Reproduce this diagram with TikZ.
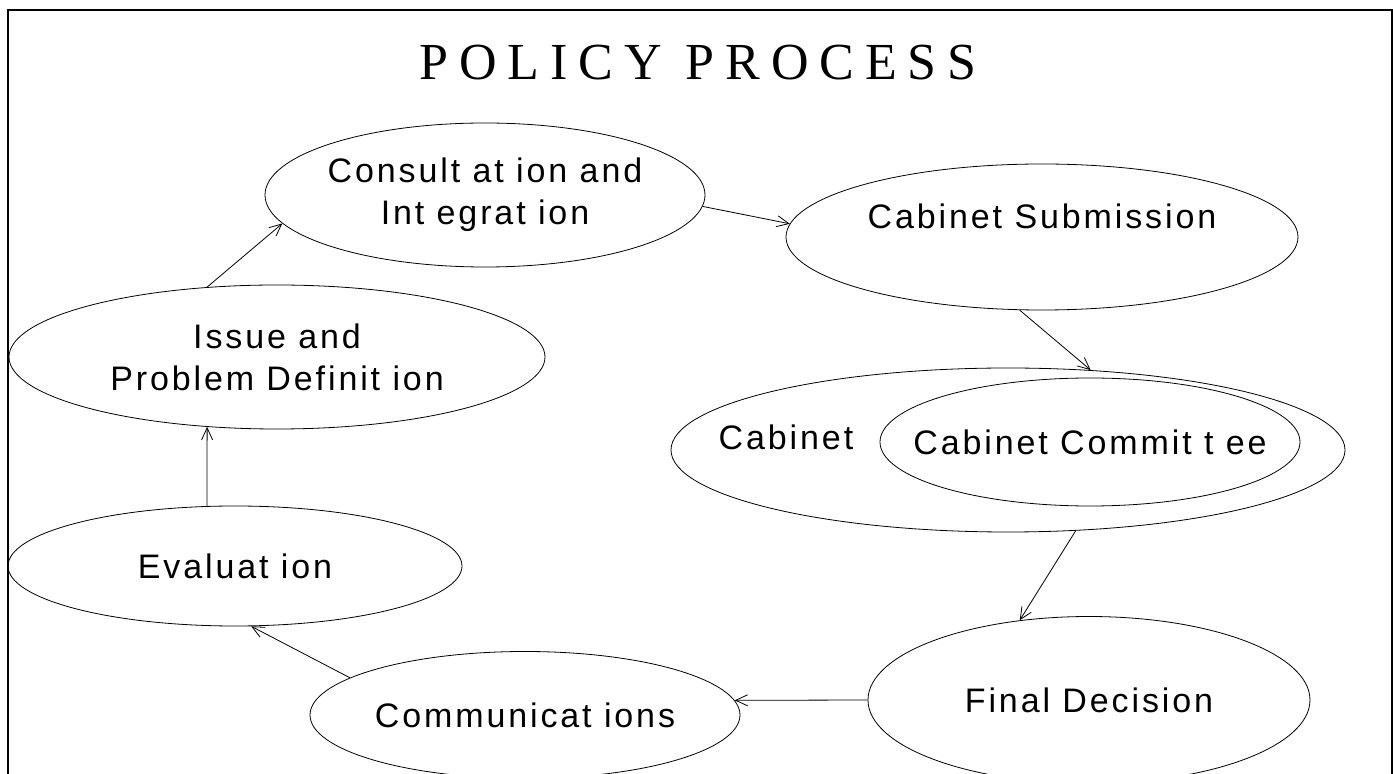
\documentclass[tikz,border=0pt]{standalone}
\usepackage{fontspec}
\setmainfont{Liberation Sans}
\newfontfamily\stagefont[LetterSpace=8.5]{Liberation Sans}
\newfontfamily\titlefont[LetterSpace=21]{Liberation Serif}
\usetikzlibrary{shapes.geometric, arrows.meta}

\tikzstyle{stage}   = [ellipse, draw=black, thin, inner sep=0pt]
\tikzstyle{heading} = [inner sep=0pt, font=\titlefont\fontsize{26}{30}\selectfont]
\tikzstyle{arrow}   = [thin, ->, >={Straight Barb[length=6pt,width=5.5pt]}]

\begin{document}
\begin{tikzpicture}[x=0.5pt, y=-0.5pt,
    every label/.style={inner sep=0pt, align=center, font=\stagefont\fontsize{17}{21}\selectfont}]
    \useasboundingbox (0,0) rectangle (1393,774);

    % frame
    \draw [line width=0.7pt] (8,774) -- (8,10) -- (1392,10) -- (1392,774);

    \node (title) [heading] at (698,63) {POLICY PROCESS};

    \node (consult)   [stage, minimum width=220pt, minimum height=72pt,
                       label={center:{Consult at ion and\\Int egrat ion}}] at (485,195) {};
    \node (submit)    [stage, minimum width=256pt, minimum height=73pt,
                       label={[yshift=10.5pt]center:Cabinet Submission}] at (1042,237) {};
    \node (issue)     [stage, minimum width=268pt, minimum height=72pt,
                       label={center:{Issue and\\Problem Definit ion}}] at (277,357) {};
    \node (cabinet)   [stage, minimum width=337pt, minimum height=82pt,
                       label={[xshift=-111pt, yshift=6.5pt]center:Cabinet}] at (1008,450) {};
    \node (committee) [stage, minimum width=210pt, minimum height=64pt,
                       label={center:Cabinet Commit t ee}] at (1090,442) {};
    \node (final)     [stage, minimum width=221pt, minimum height=83.5pt,
                       label={center:Final Decision}] at (1089,700) {};
    \node (comm)      [stage, minimum width=215pt, minimum height=63.5pt,
                       label={center:Communicat ions}] at (525,715) {};
    \node (eval)      [stage, minimum width=227pt, minimum height=60pt,
                       label={center:Evaluat ion}] at (235,566) {};

    % arrows
    \draw [arrow] (issue.135)   -- (consult.188);
    \draw [arrow] (consult.-3)  -- (submit.177);
    \draw [arrow] (submit.-107) -- (cabinet.44);
    \draw [arrow] (cabinet.-50) -- (final.131);
    \draw [arrow] (final.west)  -- (comm.4);
    \draw [arrow] (comm.168)    -- (eval.-75);
    \draw [arrow] (eval.115)    -- (issue.-135);
\end{tikzpicture}
\end{document}
